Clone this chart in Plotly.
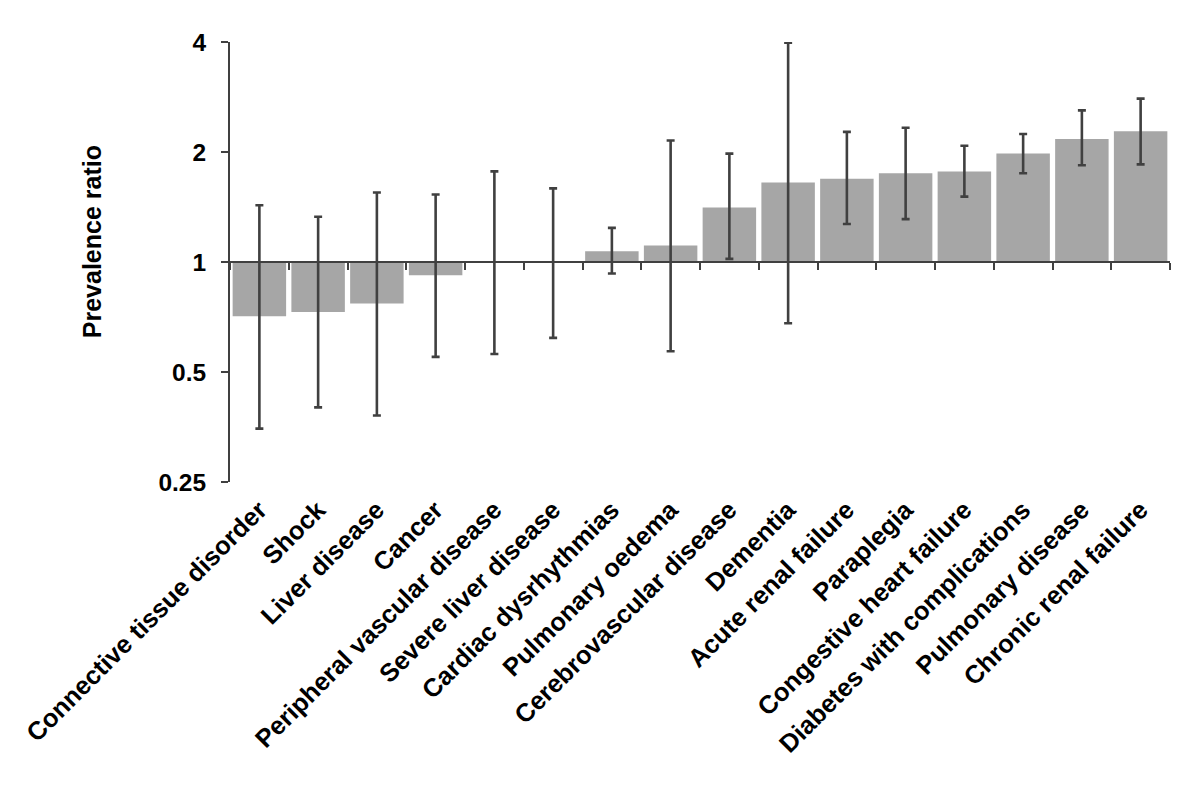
import plotly.graph_objects as go

categories = [
    "Connective tissue disorder", "Shock", "Liver disease", "Cancer",
    "Peripheral vascular disease", "Severe liver disease", "Cardiac dysrhythmias",
    "Pulmonary oedema", "Cerebrovascular disease", "Dementia", "Acute renal failure",
    "Paraplegia", "Congestive heart failure", "Diabetes with complications",
    "Pulmonary disease", "Chronic renal failure",
]
ratio = [0.71, 0.73, 0.77, 0.92, 1.00, 1.00, 1.07, 1.11, 1.41, 1.65, 1.69, 1.75, 1.77, 1.98, 2.17, 2.28]
ci_upper = [1.43, 1.33, 1.55, 1.53, 1.77, 1.59, 1.24, 2.15, 1.98, 3.98, 2.27, 2.33, 2.08, 2.24, 2.60, 2.80]
ci_lower = [0.35, 0.40, 0.38, 0.55, 0.56, 0.62, 0.93, 0.57, 1.02, 0.68, 1.27, 1.31, 1.51, 1.75, 1.84, 1.85]
ytick_vals = [0.25, 0.5, 1, 2, 4]
ytick_text = ["0.25", "0.5", "1", "2", "4"]
reference_ratio = 1

FONT = "Liberation Sans, Arial, sans-serif"
AXIS_COLOR = "#404040"

fig = go.Figure()
fig.add_trace(go.Bar(
    x=categories,
    y=[v - reference_ratio for v in ratio],
    base=reference_ratio,
    marker=dict(color="#a6a6a6", line=dict(width=0)),
    hoverinfo="skip",
    showlegend=False,
))
fig.add_trace(go.Scatter(
    x=categories,
    y=ratio,
    xaxis="x2",
    mode="markers",
    marker=dict(size=1, opacity=0),
    error_y=dict(
        type="data",
        symmetric=False,
        array=[u - v for u, v in zip(ci_upper, ratio)],
        arrayminus=[v - l for v, l in zip(ratio, ci_lower)],
        color=AXIS_COLOR,
        thickness=2.6,
        width=4,
    ),
    hoverinfo="skip",
    showlegend=False,
))

fig.update_layout(
    width=1192,
    height=798,
    margin=dict(l=222, r=30, t=34, b=324),
    paper_bgcolor="white",
    plot_bgcolor="white",
    bargap=0.09,
    font=dict(family=FONT, color="black"),
    xaxis=dict(
        type="category",
        categoryorder="array",
        categoryarray=categories,
        range=[-0.5, len(categories) - 0.5],
        showline=False,
        showgrid=False,
        ticks="",
        tickangle=-45,
        tickfont=dict(family=FONT, size=25.5, weight="bold", color="black"),
        ticklabelstandoff=7,
    ),
    xaxis2=dict(
        type="category",
        categoryorder="array",
        categoryarray=categories,
        range=[-0.5, len(categories) - 0.5],
        overlaying="x",
        anchor="free",
        position=0.5,
        side="bottom",
        showline=True,
        linecolor=AXIS_COLOR,
        linewidth=2,
        ticks="outside",
        tickson="boundaries",
        ticklen=7,
        tickwidth=2,
        tickcolor=AXIS_COLOR,
        showticklabels=False,
        showgrid=False,
    ),
    yaxis=dict(
        type="log",
        range=[-0.60206, 0.60206],
        tickvals=ytick_vals,
        ticktext=ytick_text,
        showline=True,
        linecolor=AXIS_COLOR,
        linewidth=2,
        ticks="outside",
        ticklen=7,
        tickwidth=2,
        tickcolor=AXIS_COLOR,
        showgrid=False,
        zeroline=False,
        tickfont=dict(family=FONT, size=24.5, weight="bold", color="black"),
        ticklabelstandoff=10,
    ),
    annotations=[dict(
        text="Prevalence ratio",
        textangle=-90,
        xref="paper", yref="paper",
        x=0, y=0.545,
        xanchor="center", yanchor="middle",
        xshift=-138,
        showarrow=False,
        font=dict(family=FONT, size=25, weight="bold", color="black"),
    )],
)

fig.write_html("out.html")
